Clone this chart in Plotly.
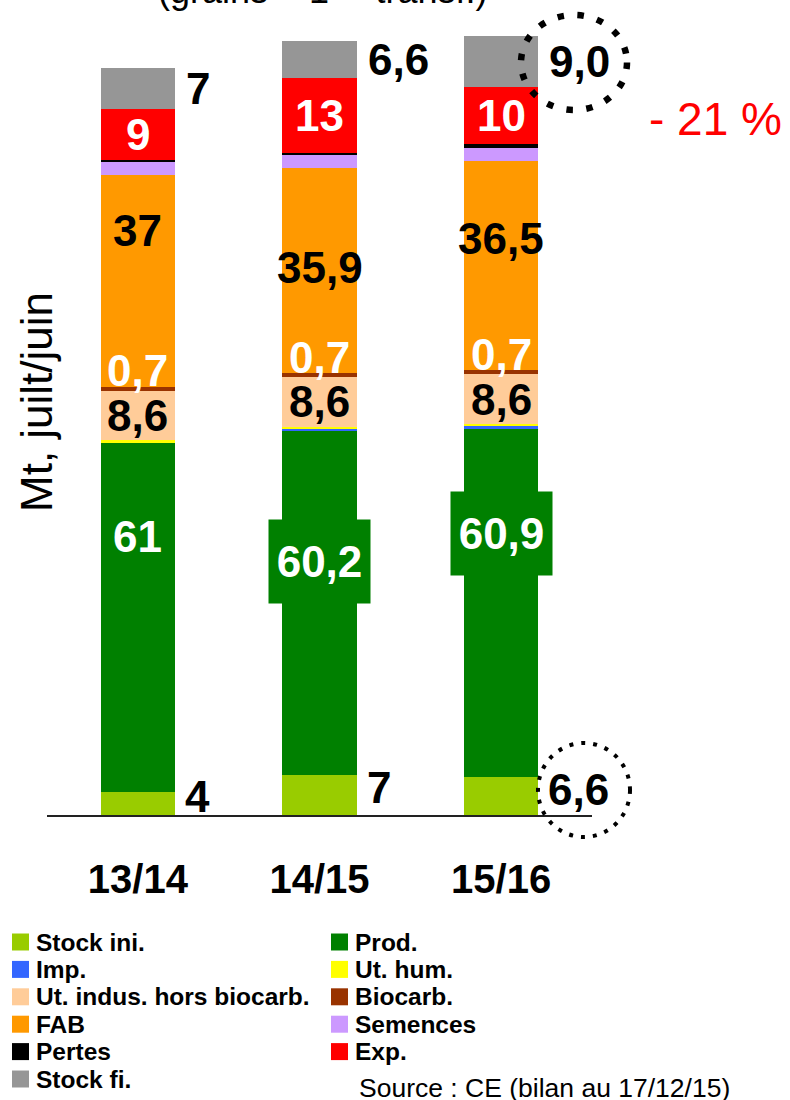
import numpy as np
import plotly.graph_objects as go

# ---------------- data ----------------
categories = ['13/14', '14/15', '15/16']
series_names = ['Stock ini.', 'Prod.', 'Imp.', 'Ut. hum.', 'Ut. indus. hors biocarb.',
                'Biocarb.', 'FAB', 'Semences', 'Pertes', 'Exp.', 'Stock fi.']
stock_ini = [4, 7, 6.6]
prod = [61, 60.2, 60.9]
imp = [0.0, 0.3, 0.4]
ut_hum = [0.5, 0.35, 0.45]
ut_indus = [8.6, 8.6, 8.6]
biocarb = [0.7, 0.7, 0.7]
fab = [37, 35.9, 36.5]
semences = [2.2, 2.4, 2.3]
pertes = [0.4, 0.2, 0.7]
exp_ = [9, 13, 10]
stock_fi = [7, 6.6, 9.0]
stock_fi_labels = ['7', '6,6', '9,0']
change_label = '- 21 %'
source_text = 'Source : CE (bilan au 17/12/15)'
title_text = '(grains + 1<sup>ère</sup> transf.)'
yaxis_title = 'Mt, juilt/juin'

# ---------------- styles ----------------
colors = ['#99CC00', '#008000', '#3366FF', '#FFFF00', '#FFCC99',
          '#993300', '#FF9900', '#CC99FF', '#000000', '#FF0000', '#969696']
FONT = 'Liberation Sans, Arial, sans-serif'
BW = 0.41
prod_label_frac = [0.733, 0.62, 0.70]
fab_label_frac = [0.737, 0.515, 0.633]

W, H = 790, 1100
ML, MR, MT, MB = 47, 198, 20, 285
PW = W - ML - MR
PH = H - MT - MB
PX_PER_UNIT = 5.725
YMAX = PH / PX_PER_UNIT


def xp(px):
    return (px - ML) / PW


def yp(py):
    return (H - MB - py) / PH


def fmt(v):
    if float(v).is_integer():
        return str(int(v))
    return ('%.1f' % v).replace('.', ',')


stack = [stock_ini, prod, imp, ut_hum, ut_indus, biocarb, fab, semences, pertes, exp_, stock_fi]
arr = np.array(stack, dtype=float)
tops = np.cumsum(arr, axis=0)
bottoms = tops - arr

fig = go.Figure()
for name, vals, col in zip(series_names, stack, colors):
    fig.add_trace(go.Bar(x=categories, y=vals, name=name, width=BW,
                         marker=dict(color=col, line=dict(width=0)),
                         showlegend=False, hoverinfo='name+y'))

ann = []


def lab(x, y, text, color, size=44, **kw):
    d = dict(x=x, y=y, xref='x', yref='y', text=text, showarrow=False,
             font=dict(family=FONT, size=size, color=color, weight='bold'))
    d.update(kw)
    ann.append(d)


for i in range(len(categories)):
    # Stock ini (outside right)
    lab(i + BW / 2, bottoms[0][i] + arr[0][i] / 2, fmt(stock_ini[i]), 'black',
        xanchor='left', xshift=8, yshift=7)
    # Prod
    extra = {}
    if i > 0:
        extra = dict(bgcolor=colors[1], width=99, height=81, borderpad=1)
    lab(i, bottoms[1][i] + prod_label_frac[i] * arr[1][i], fmt(prod[i]), 'white', **extra)
    # Ut. indus.
    lab(i, bottoms[4][i] + arr[4][i] / 2, fmt(ut_indus[i]), 'black')
    # Biocarb (white, sitting on the brown line)
    lab(i, tops[5][i], fmt(biocarb[i]), 'white', yshift=16)
    # FAB
    lab(i, bottoms[6][i] + fab_label_frac[i] * arr[6][i], fmt(fab[i]), 'black')
    # Exp.
    lab(i, bottoms[9][i] + arr[9][i] / 2, fmt(exp_[i]), 'white')
    # Stock fi (outside right)
    lab(i + BW / 2, bottoms[10][i] + arr[10][i] / 2, stock_fi_labels[i], 'black',
        xanchor='left', xshift=9)

# change label
ann.append(dict(x=xp(715), y=yp(119), xref='paper', yref='paper', text=change_label,
                showarrow=False, xanchor='center', yanchor='middle',
                font=dict(family=FONT, size=46, color='#FF0000')))
# partially visible title
ann.append(dict(x=xp(323), y=yp(13), xref='paper', yref='paper', text=title_text,
                showarrow=False, xanchor='center', yanchor='bottom',
                font=dict(family=FONT, size=36, color='black')))
# y axis title
ann.append(dict(x=xp(36), y=yp(402), xref='paper', yref='paper', text=yaxis_title,
                showarrow=False, textangle=-90, xanchor='center', yanchor='middle',
                font=dict(family=FONT, size=44, color='black')))
# source
ann.append(dict(x=xp(357), y=yp(1088), xref='paper', yref='paper', text=source_text,
                showarrow=False, xanchor='left', yanchor='middle',
                font=dict(family=FONT, size=26.5, color='black')))

shapes = []
# manual legend (two columns)
col_sq_x = [12, 331]
col_tx_x = [34, 353]
row_y0, row_step, sq = 942, 27.4, 17
for k, (name, col) in enumerate(zip(series_names, colors)):
    r, c = divmod(k, 2)
    cy = row_y0 + r * row_step
    shapes.append(dict(type='rect', xref='paper', yref='paper',
                       x0=xp(col_sq_x[c]), x1=xp(col_sq_x[c] + sq),
                       y0=yp(cy + sq / 2), y1=yp(cy - sq / 2),
                       fillcolor=col, line=dict(width=0)))
    ann.append(dict(x=xp(col_tx_x[c]), y=yp(cy), xref='paper', yref='paper', text=name,
                    showarrow=False, xanchor='left', yanchor='middle',
                    font=dict(family=FONT, size=24.5, color='black', weight='bold')))

# dotted highlight ellipses
shapes.append(dict(type='circle', xref='paper', yref='paper',
                   x0=xp(521), x1=xp(627), y0=yp(110), y1=yp(15),
                   line=dict(color='black', width=6.5, dash='6.5px,13.5px')))
shapes.append(dict(type='circle', xref='paper', yref='paper',
                   x0=xp(538), x1=xp(630), y0=yp(837), y1=yp(743),
                   line=dict(color='black', width=4, dash='4px,8px')))

fig.update_layout(
    width=W, height=H, barmode='stack',
    margin=dict(l=ML, r=MR, t=MT, b=MB, pad=0),
    paper_bgcolor='white', plot_bgcolor='white',
    showlegend=False,
    annotations=ann, shapes=shapes,
    xaxis=dict(range=[-0.5, 2.5], showline=True, linecolor='#222222', linewidth=1.5,
               ticks='', showgrid=False, zeroline=False,
               tickfont=dict(family=FONT, size=40, color='black', weight='bold'),
               ticklabelstandoff=28, fixedrange=True),
    yaxis=dict(range=[0, YMAX], visible=False, showgrid=False, zeroline=False,
               fixedrange=True),
    font=dict(family=FONT),
)

fig.write_html('out.html', config={'displayModeBar': False},
               post_script="document.body.style.margin='0';document.body.style.padding='0';")
